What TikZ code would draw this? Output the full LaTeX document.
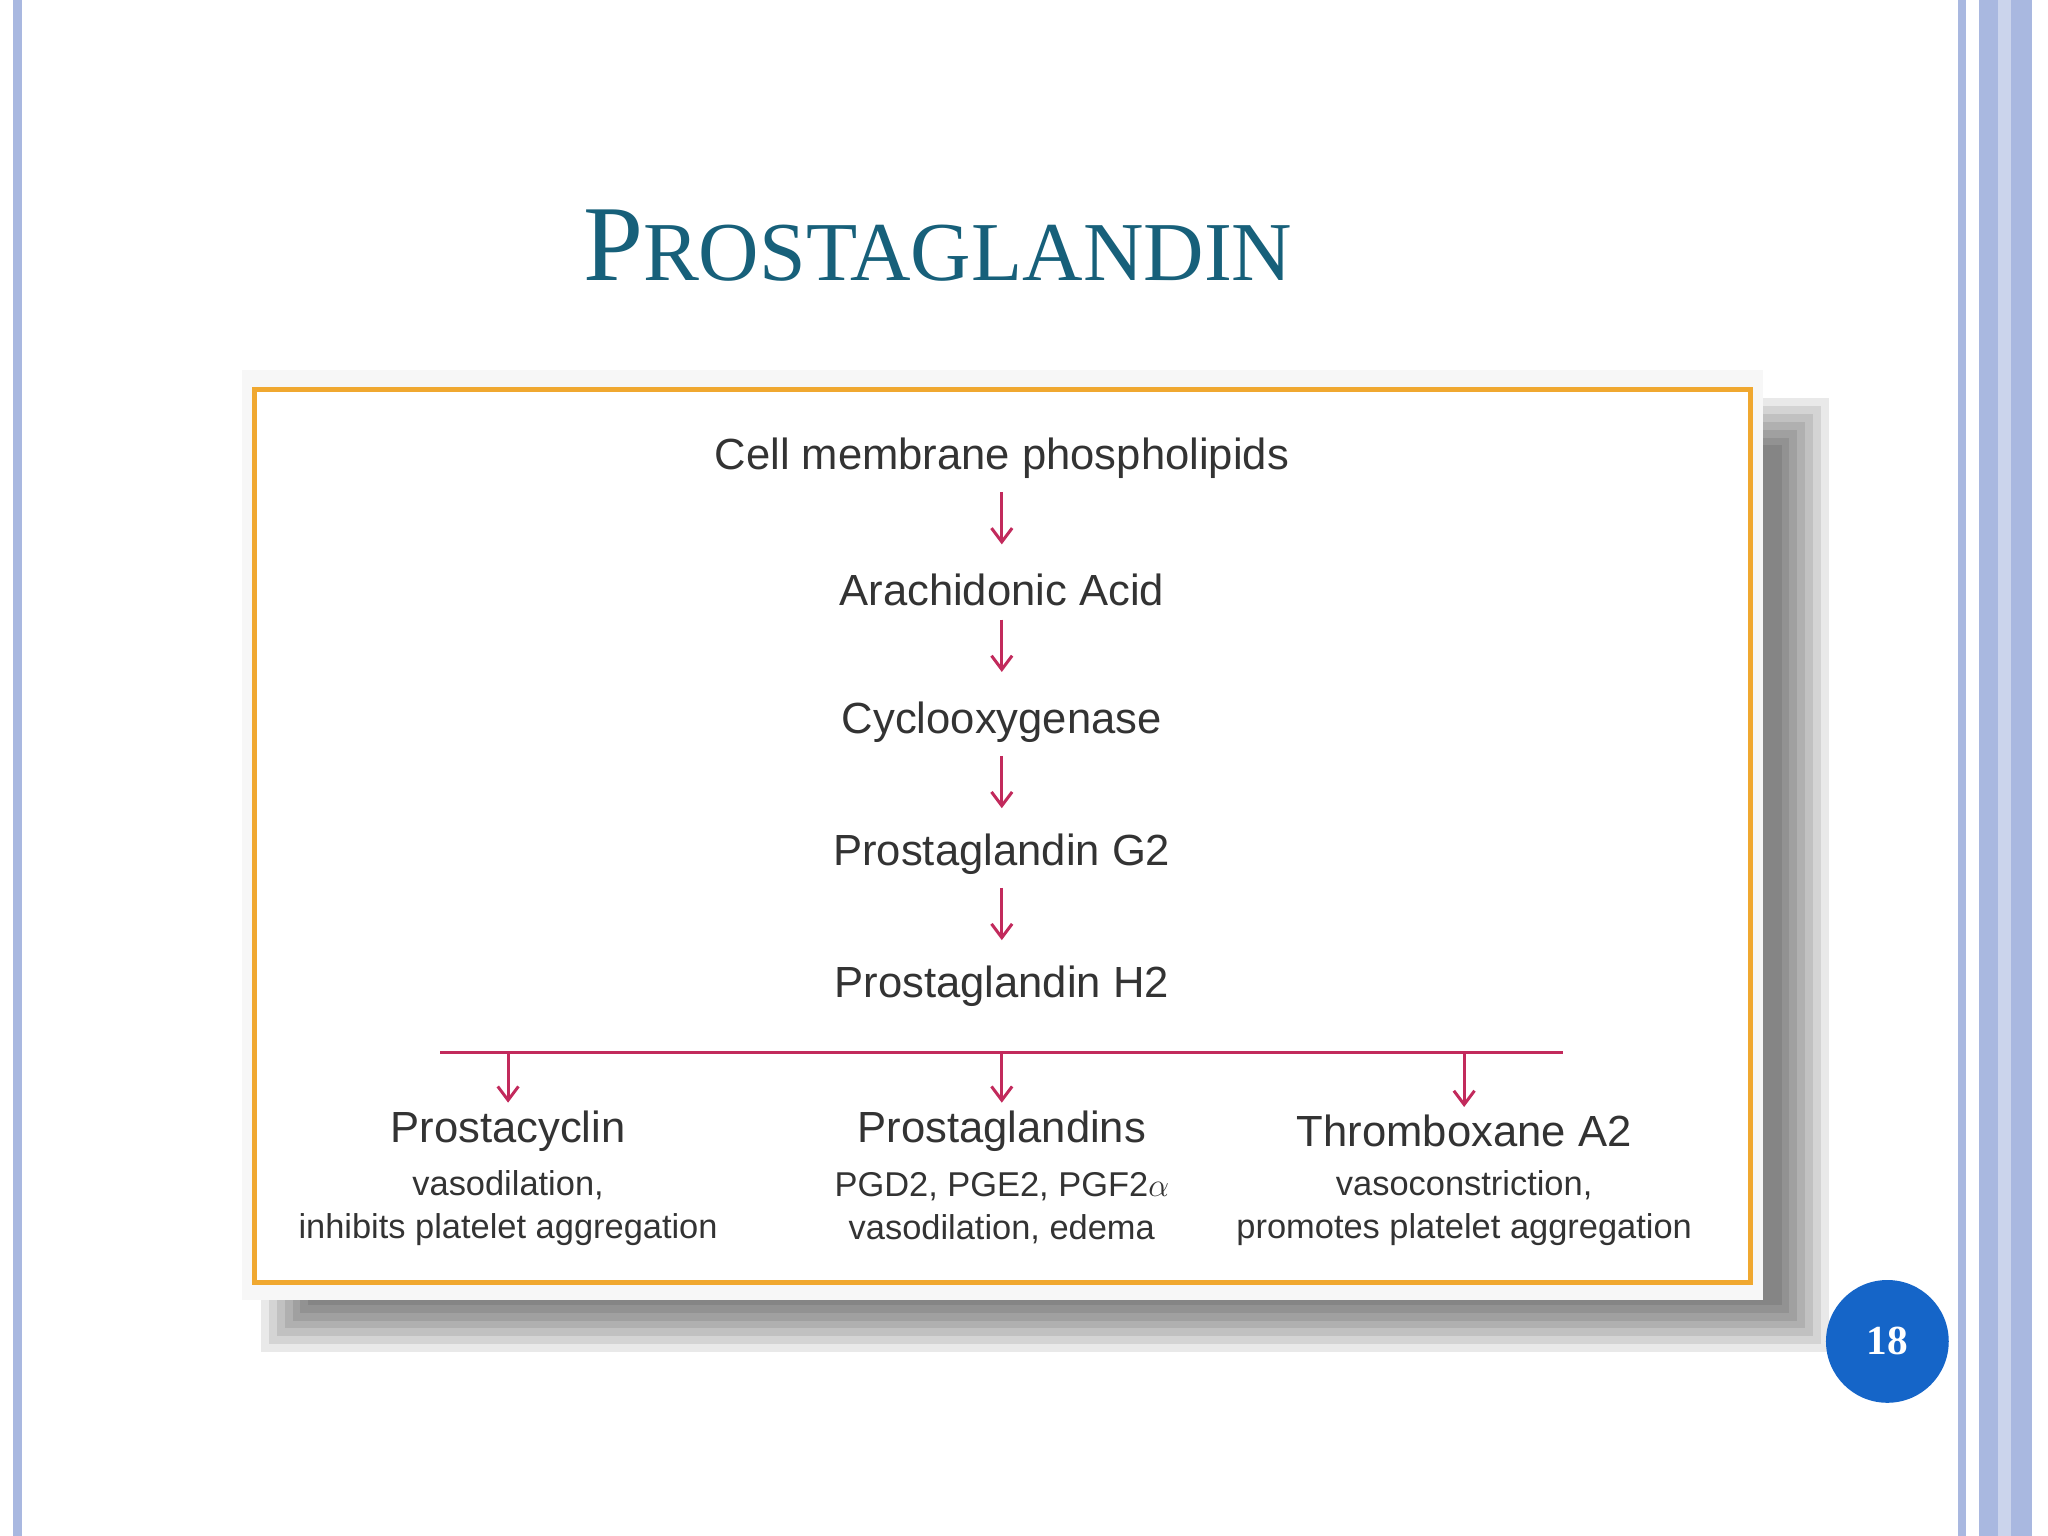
\documentclass[tikz,border=0pt]{standalone}
\usepackage{fontspec}
\setmainfont{Liberation Sans}
\newfontfamily\serifttl{Liberation Serif}
\usetikzlibrary{arrows.meta}
\definecolor{teal1}{HTML}{17607A}
\definecolor{crim}{HTML}{C22A5C}
\definecolor{orng}{HTML}{F0A830}
\definecolor{bandblue}{HTML}{A9B8E0}
\definecolor{pgblue}{HTML}{1565C8}
\tikzset{
 lbl/.style={font=\fontsize{19}{23}\selectfont, text=black!80},
 sub/.style={font=\fontsize{15}{18}\selectfont, text=black!80, align=center},
 arr/.style={draw=crim, line width=1.3pt, -{Straight Barb[length=6pt,width=9pt]}},
}
\begin{document}
\begin{tikzpicture}[x=0.02cm,y=-0.02cm]
\useasboundingbox (0,0) rectangle (1568,1176);
\fill[white] (0,0) rectangle (1568,1176);
% side bands
\fill[bandblue] (10,0) rectangle (17,1176);
\fill[bandblue] (1499,0) rectangle (1505,1176);
\fill[bandblue] (1515,0) rectangle (1530,1176);
\fill[bandblue] (1540,0) rectangle (1556,1176);
\fill[bandblue!60] (1530,0) rectangle (1540,1176);
% title
\node[text=teal1, anchor=base] (title) at (718,215) {\serifttl\fontsize{47}{52}\selectfont P\fontsize{36.5}{42}\selectfont ROSTAGLANDIN};
% shadow
\foreach \i in {0,6,12,18,24,30,36}{
 \fill[black,opacity=0.085] (200+\i,305+\i) rectangle (1400-\i,1035-\i);
}
\fill[black!3] (185,283) rectangle (1350,995);
\fill[white] (195,298) rectangle (1340,982);
\draw[orng, line width=2pt] (195,298) rectangle (1340,982);
% chain
\node[lbl] (a) at (767,351) {Cell membrane phospholipids};
\node[lbl] (b) at (767,452) {Arachidonic Acid};
\node[lbl] (c) at (767,553) {Cyclooxygenase};
\node[lbl] (d) at (767,654) {Prostaglandin G2};
\node[lbl] (e) at (767,755) {Prostaglandin H2};
\draw[arr] (a.south) ++(0,4) -- ++(0,40);
\draw[arr] (b.south) ++(0,4) -- ++(0,40);
\draw[arr] (c.south) ++(0,4) -- ++(0,40);
\draw[arr] (d.south) ++(0,4) -- ++(0,40);
\coordinate (bl) at (337,806);
\coordinate (br) at (1197,806);
\draw[crim, line width=1.5pt] (bl) -- (br);
\node[lbl] (p1) at (389,866) {Prostacyclin};
\node[lbl] (p2) at (767,866) {Prostaglandins};
\node[lbl] (p3) at (1121,866) {Thromboxane A2};
\coordinate (t1) at (389,806);
\coordinate (t2) at (767,806);
\coordinate (t3) at (1121,806);
\draw[arr] (t1) -- (p1.north);
\draw[arr] (t2) -- (p2.north);
\draw[arr] (t3) -- (p3.north);
\node[sub] (s1) at (389,925) {vasodilation,\\[1pt]inhibits platelet aggregation};
\node[sub] (s2) at (767,925) {PGD2, PGE2, PGF2$\alpha$\\[1pt]vasodilation, edema};
\node[sub] (s3) at (1121,925) {vasoconstriction,\\[1pt]promotes platelet aggregation};
% page number
\fill[pgblue] (1445,1027) circle (47);
\node[text=white, font=\serifttl\bfseries\fontsize{18}{20}\selectfont] (pg) at (1445,1027) {18};
\end{tikzpicture}
\end{document}
